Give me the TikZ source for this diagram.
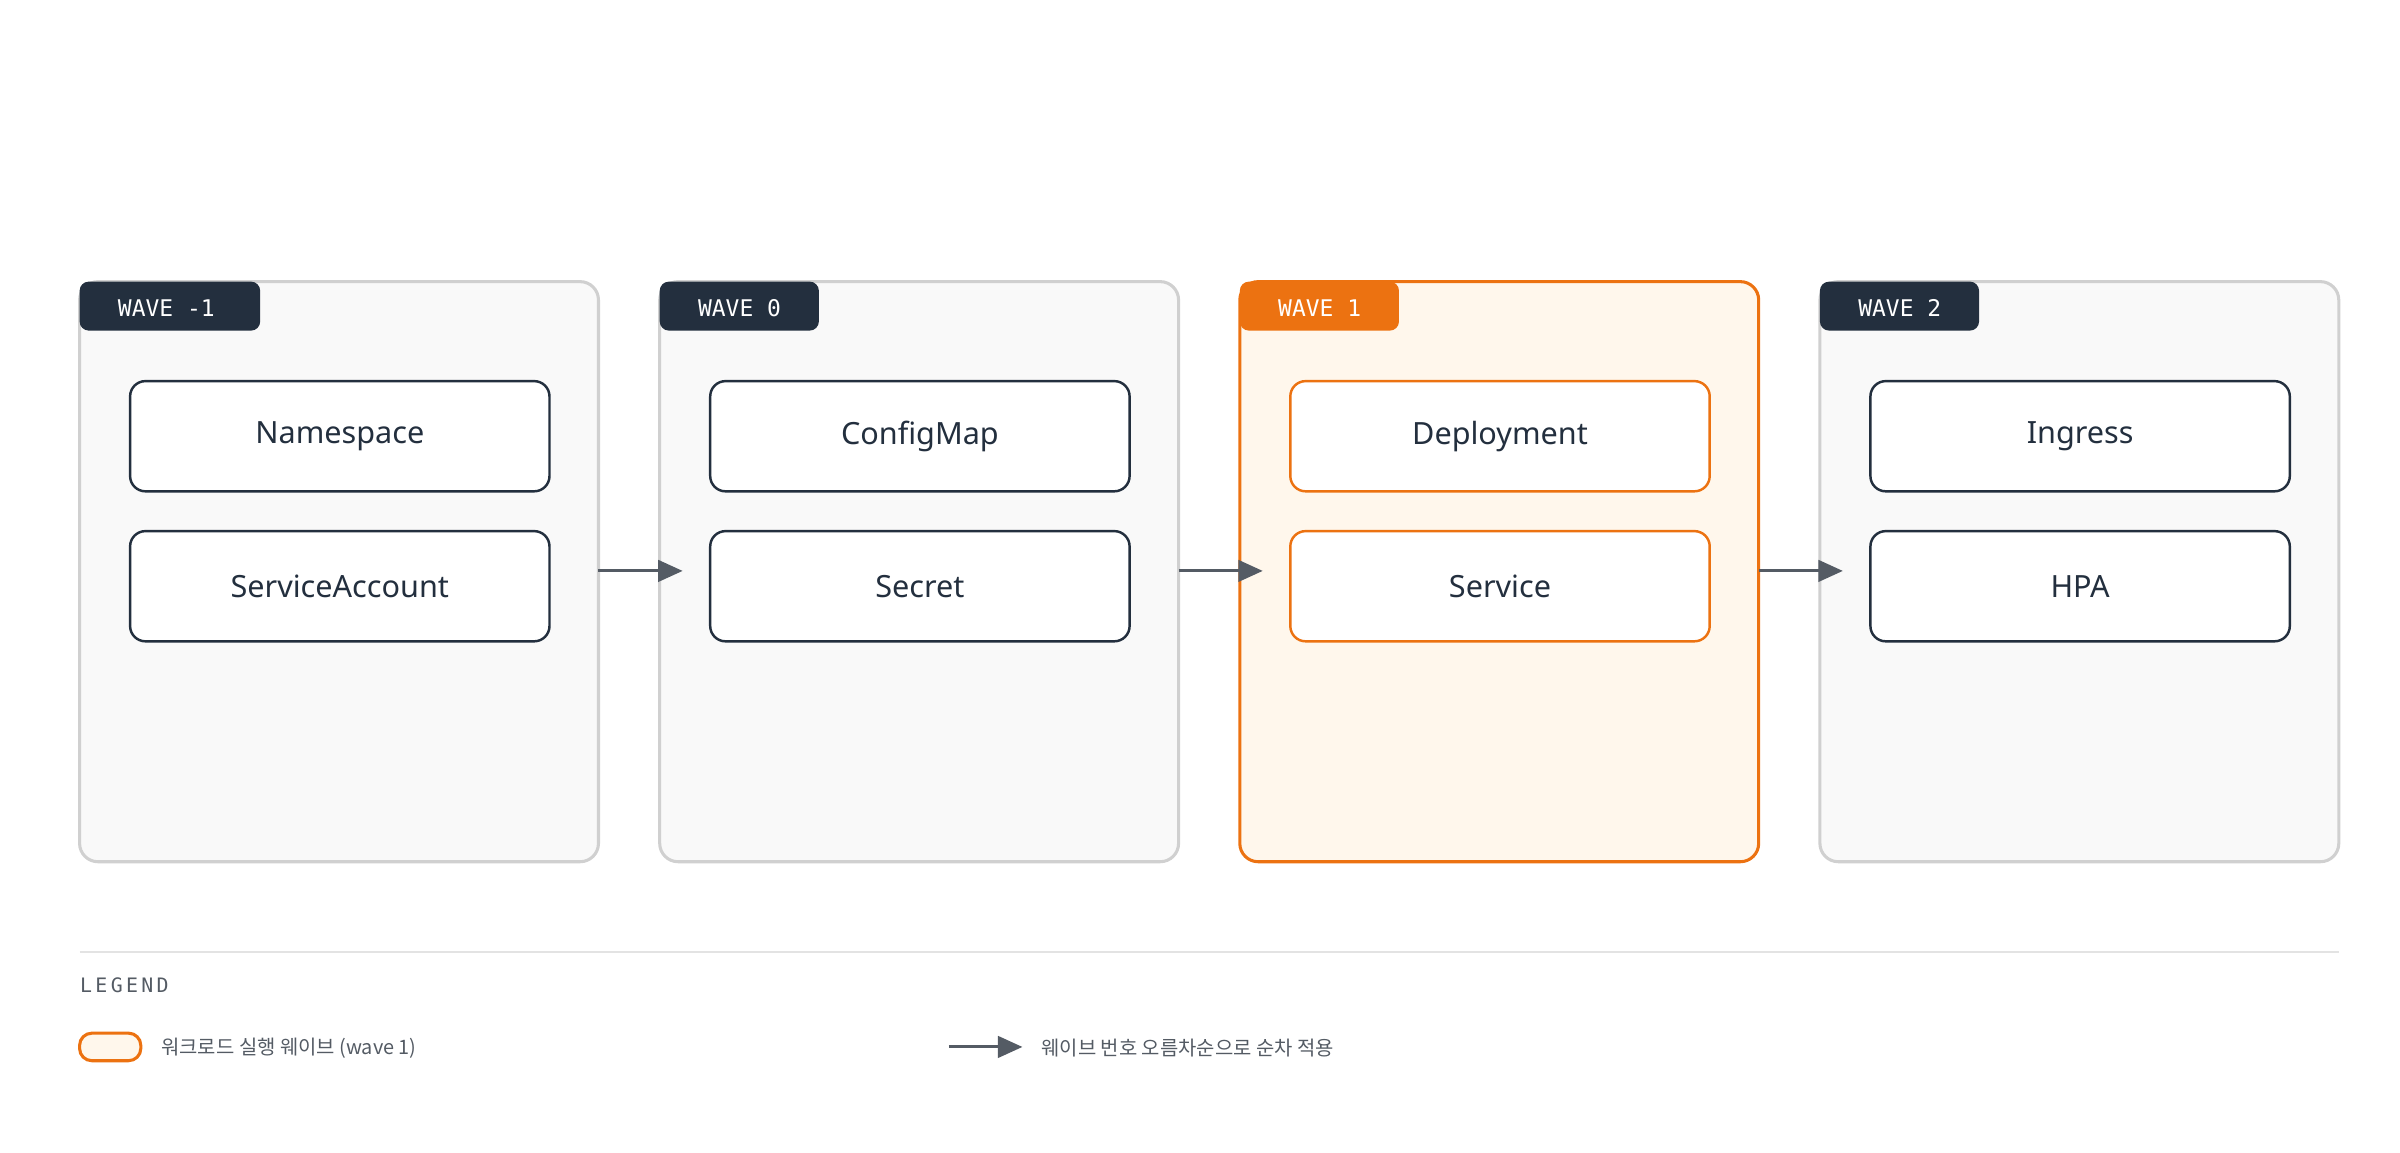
\documentclass[tikz,border=0pt]{standalone}
\usepackage{fontspec}
\setmainfont{Noto Sans}
\newfontfamily\monofont{DejaVu Sans Mono}
\newfontfamily\krfont{Noto Sans CJK KR}
\usetikzlibrary{positioning,arrows.meta}

\definecolor{navy}{HTML}{232F3E}
\definecolor{awsorange}{HTML}{EC7211}
\definecolor{panelgray}{HTML}{F9F9F9}
\definecolor{panelline}{HTML}{D0D0D0}
\definecolor{panelorange}{HTML}{FFF7EC}
\definecolor{arrowgray}{HTML}{545B64}

\tikzset{
    panel/.style={draw=panelline, fill=panelgray, line width=1pt, rounded corners=6pt},
    hotpanel/.style={panel, draw=awsorange, fill=panelorange},
    tag/.style={fill=navy, rounded corners=3pt},
    tagtext/.style={text=white, font=\monofont\fontsize{7.5}{9}\selectfont, anchor=west},
    res/.style={draw=navy, fill=white, line width=0.8pt, rounded corners=5pt,
        minimum width=137pt, minimum height=36pt, font=\bfseries\fontsize{10}{12}\selectfont, text=navy},
    hotres/.style={res, draw=awsorange},
    flow/.style={draw=arrowgray, line width=1pt, -{Triangle[length=8pt,width=7pt]}},
}

\begin{document}
\begin{tikzpicture}[x=0.5pt, y=-0.5pt]
    \useasboundingbox (0,0) rectangle (1568,753);

    % Wave panels
    \draw [panel]    (52,184)   rectangle (391,563);
    \draw [panel]    (431,184)  rectangle (770,563);
    \draw [hotpanel] (810,184)  rectangle (1149,563);
    \draw [panel]    (1189,184) rectangle (1528,563);
    \coordinate (p0) at (391,373);
    \coordinate (p1) at (770,373);
    \coordinate (p2) at (1149,373);
    \coordinate (q1) at (446,373);
    \coordinate (q2) at (825,373);
    \coordinate (q3) at (1204,373);

    % Tags
    \fill [tag] (52,184) rectangle (170,216);
    \node [tagtext] (t0) at (70,201) {WAVE -1};
    \fill [tag] (431,184) rectangle (535,216);
    \node [tagtext] (t1) at (449,201) {WAVE 0};
    \fill [tag, fill=awsorange] (810,184) rectangle (914,216);
    \node [tagtext] (t2) at (828,201) {WAVE 1};
    \fill [tag] (1189,184) rectangle (1293,216);
    \node [tagtext] (t3) at (1207,201) {WAVE 2};

    % Resources
    \node [res]    (ns)  at (222,285)  {Namespace};
    \node [res]    (sa)  at (222,383)  {ServiceAccount};
    \node [res]    (cm)  at (601,285)  {ConfigMap};
    \node [res]    (sec) at (601,383)  {Secret};
    \node [hotres] (dep) at (980,285)  {Deployment};
    \node [hotres] (svc) at (980,383)  {Service};
    \node [res]    (ing) at (1359,285) {Ingress};
    \node [res]    (hpa) at (1359,383) {HPA};

    % Order arrows
    \draw [flow] (p0) -- (q1);
    \draw [flow] (p1) -- (q2);
    \draw [flow] (p2) -- (q3);

    % Legend
    \draw [panelline!60, line width=0.6pt] (52,622) -- (1528,622);
    \node [anchor=west, inner sep=0, text=arrowgray, font=\monofont\fontsize{6.5}{8}\selectfont] (lg) at (52,644) {L\,E\,G\,E\,N\,D};
    \draw [draw=awsorange, fill=panelorange, line width=1pt, rounded corners=4pt] (52,675) rectangle (92,693);
    \node [anchor=west, inner sep=0, text=arrowgray, font=\krfont\fontsize{6.5}{8}\selectfont] (l1) at (105,685) {워크로드 실행 웨이브 (wave 1)};
    \coordinate (a0) at (620,684);
    \coordinate (a1) at (668,684);
    \draw [flow] (a0) -- (a1);
    \node [anchor=west, inner sep=0, text=arrowgray, font=\krfont\fontsize{6.5}{8}\selectfont] (l2) at (680,685) {웨이브 번호 오름차순으로 순차 적용};
\end{tikzpicture}
\end{document}
